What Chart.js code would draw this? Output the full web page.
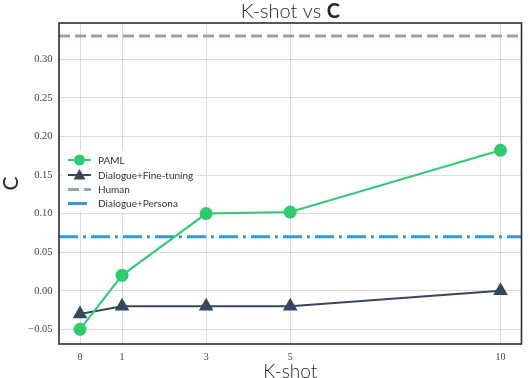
<!DOCTYPE html>
<html><head><meta charset="utf-8">
<script src="https://cdn.jsdelivr.net/npm/chart.js@4"></script>
<style>html,body{margin:0;padding:0;background:#fff}#wrap{width:530px;height:378px}</style>
</head><body><div id="wrap"><canvas id="c" width="530" height="378"></canvas></div>
<script>
const kShots = [0, 1, 3, 5, 10];
const pamlValues = [-0.05, 0.02, 0.10, 0.102, 0.182];
const fineTuningValues = [-0.03, -0.02, -0.02, -0.02, 0.0];
const humanValue = 0.33;
const personaValue = 0.07;
const yTicks = [-0.05, 0, 0.05, 0.10, 0.15, 0.20, 0.25, 0.30];
const xRange = [-0.5, 10.5];
const yRange = [-0.069, 0.347];
const seriesNames = ['PAML', 'Dialogue+Fine-tuning', 'Human', 'Dialogue+Persona'];
const colors = ['#2ecc71', '#34495e', '#95a5a6', '#3498db'];

const toPts = vals => kShots.map((k, i) => ({x: k, y: vals[i]}));
const hline = v => [{x: xRange[0], y: v}, {x: xRange[1], y: v}];

const serif = '"Liberation Serif", "DejaVu Serif", serif';
const sans = 'Lato, "Open Sans", "DejaVu Sans", sans-serif';

const decor = {
  id: 'decor',
  afterDraw(chart) {
    const ctx = chart.ctx, a = chart.chartArea;
    ctx.save();
    // frame
    ctx.strokeStyle = '#2e2e2e';
    ctx.lineWidth = 1.6;
    ctx.strokeRect(a.left, a.top, a.right - a.left, a.bottom - a.top);
    // title
    ctx.fillStyle = '#262626';
    ctx.textBaseline = 'alphabetic';
    const t1 = 'K-shot vs ', t2 = 'C';
    ctx.font = '300 20px ' + sans;
    const w1 = ctx.measureText(t1).width;
    ctx.font = 'bold 20px ' + sans;
    const w2 = ctx.measureText(t2).width;
    const cx = (a.left + a.right) / 2;
    let x0 = cx - (w1 + w2) / 2;
    ctx.textAlign = 'left';
    ctx.font = '300 20px ' + sans;
    ctx.fillText(t1, x0, 18);
    ctx.font = 'bold 20px ' + sans;
    ctx.fillText(t2, x0 + w1, 18);
    // x label
    ctx.textAlign = 'center';
    ctx.font = '300 19px ' + sans;
    ctx.fillText('K-shot', cx, 378);
    // y label
    ctx.save();
    ctx.translate(17.5, (a.top + a.bottom) / 2);
    ctx.rotate(-Math.PI / 2);
    ctx.font = '21px ' + sans;
    ctx.fillText('C', 0, 0);
    ctx.restore();
    // legend
    const lx = 68, lw = 23, tx = 98;
    const rows = [160, 175, 189.5, 203.5];
    ctx.fillStyle = 'rgba(255,255,255,0.8)';
    ctx.fillRect(63, 150, 134, 62);
    ctx.font = '10px ' + sans;
    ctx.textAlign = 'left';
    ctx.textBaseline = 'middle';
    chart.data.datasets.forEach((ds, i) => {
      const y = rows[i];
      ctx.strokeStyle = ds.borderColor;
      ctx.lineWidth = ds.borderWidth;
      ctx.setLineDash(ds.borderDash || []);
      ctx.beginPath(); ctx.moveTo(lx, y); ctx.lineTo(lx + lw, y); ctx.stroke();
      ctx.setLineDash([]);
      ctx.fillStyle = ds.borderColor;
      if (ds.pointStyle === 'circle') {
        ctx.beginPath(); ctx.arc(lx + lw / 2, y, 5.5, 0, Math.PI * 2); ctx.fill();
      } else if (ds.pointStyle === 'triangle') {
        const c = lx + lw / 2;
        ctx.beginPath(); ctx.moveTo(c, y - 6); ctx.lineTo(c + 6, y + 4.5); ctx.lineTo(c - 6, y + 4.5); ctx.closePath(); ctx.fill();
      }
      ctx.fillStyle = '#333';
      ctx.fillText(ds.label, tx, y + 0.5);
    });
    ctx.restore();
  }
};

new Chart(document.getElementById('c'), {
  type: 'line',
  data: {
    datasets: [
      {label: seriesNames[0], data: toPts(pamlValues), borderColor: colors[0], backgroundColor: colors[0],
       borderWidth: 2, pointStyle: 'circle', pointRadius: 5.5, pointHoverRadius: 5.5},
      {label: seriesNames[1], data: toPts(fineTuningValues), borderColor: colors[1], backgroundColor: colors[1],
       borderWidth: 2, pointStyle: 'triangle', pointRadius: 6.5, pointHoverRadius: 6.5},
      {label: seriesNames[2], data: hline(humanValue), borderColor: colors[2], backgroundColor: colors[2],
       borderWidth: 3, borderDash: [11, 5], pointRadius: 0},
      {label: seriesNames[3], data: hline(personaValue), borderColor: colors[3], backgroundColor: colors[3],
       borderWidth: 3, borderDash: [19, 5, 3, 5], pointRadius: 0}
    ]
  },
  options: {
    responsive: false,
    animation: false,
    devicePixelRatio: 1,
    layout: {padding: {left: 0, top: 23, right: 1.5, bottom: 0}},
    plugins: {legend: {display: false}, title: {display: false}, tooltip: {enabled: false}},
    scales: {
      x: {
        type: 'linear', min: xRange[0], max: xRange[1],
        afterBuildTicks: s => { s.ticks = kShots.map(v => ({value: v})); },
        afterFit: s => { s.height = 34; },
        grid: {color: '#dcdcdc', lineWidth: 1, drawTicks: false},
        border: {display: false},
        ticks: {padding: 7, color: '#444', font: {family: serif, size: 10}, callback: v => String(v)}
      },
      y: {
        type: 'linear', min: yRange[0], max: yRange[1],
        afterBuildTicks: s => { s.ticks = yTicks.map(v => ({value: v})); },
        afterFit: s => { s.width = 59; },
        grid: {color: '#dcdcdc', lineWidth: 1, drawTicks: false},
        border: {display: false},
        ticks: {padding: 6.5, color: '#444', font: {family: serif, size: 10.5},
          callback: v => (v < 0 ? '\u2212' : '') + Math.abs(v).toFixed(2)}
      }
    }
  },
  plugins: [decor]
});
</script>
</body></html>
